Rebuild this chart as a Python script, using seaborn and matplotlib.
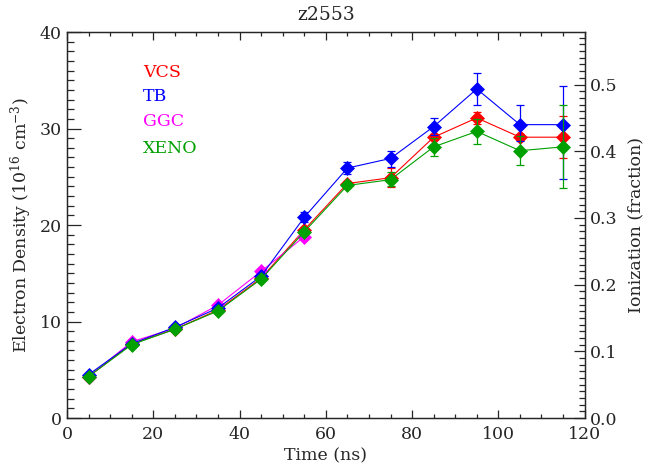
import matplotlib
matplotlib.use("Agg")
import matplotlib.pyplot as plt
import seaborn as sns
import numpy as np
import pandas as pd
from matplotlib.ticker import MultipleLocator, FormatStrFormatter

# ---- data ----
time_vcs = [5, 15, 25, 35, 45, 55, 65, 75, 85, 95, 105, 115]
vcs = [4.3, 7.7, 9.2, 11.2, 14.5, 19.5, 24.3, 24.9, 29.1, 31.1, 29.1, 29.1]
vcs_err_lo = [0, 0, 0, 0, 0, 0, 0.3, 1.0, 0.3, 0.6, 0.3, 2.2]
vcs_err_hi = [0, 0, 0, 0, 0, 0, 0.3, 1.0, 0.3, 0.6, 0.3, 2.2]

time_tb = [5, 15, 25, 35, 45, 55, 65, 75, 85, 95, 105, 115]
tb = [4.5, 7.7, 9.4, 11.4, 14.7, 20.8, 25.9, 26.9, 30.2, 34.1, 30.4, 30.4]
tb_err_lo = [0, 0, 0, 0, 0, 0.5, 0.6, 0.9, 0.9, 1.7, 1.7, 5.6]
tb_err_hi = [0, 0, 0, 0, 0, 0.5, 0.6, 0.8, 0.9, 1.7, 2.0, 4.0]

time_ggc = [5, 15, 25, 35, 45, 55]
ggc = [4.3, 7.9, 9.3, 11.7, 15.2, 18.8]

time_xeno = [5, 15, 25, 35, 45, 55, 65, 75, 85, 95, 105, 115]
xeno = [4.3, 7.6, 9.2, 11.1, 14.4, 19.3, 24.1, 24.7, 28.1, 29.7, 27.7, 28.1]
xeno_err_lo = [0, 0, 0, 0, 0, 0, 0.3, 0.7, 0.9, 1.3, 1.5, 4.3]
xeno_err_hi = [0, 0, 0, 0, 0, 0, 0.3, 0.8, 0.9, 1.3, 1.5, 4.3]

labels = ["VCS", "TB", "GGC", "XENO"]
colors = ["#ff0000", "#0000ff", "#ff00ff", "#00a000"]

title = "z2553"
xlabel = "Time (ns)"
ylabel = "Electron Density (10$^{16}$ cm$^{-3}$)"
ylabel2 = "Ionization (fraction)"
ion_max = 0.5787

# ---- style ----
sns.set_style("ticks")
plt.rcParams["font.family"] = ["DejaVu Serif"]
plt.rcParams["mathtext.fontset"] = "dejavuserif"

fig = plt.figure(figsize=(6.47, 4.68), dpi=100)
ax = fig.add_axes([0.1036, 0.1068, 0.8, 0.8248])

series = [
    ("VCS", time_vcs, vcs, vcs_err_lo, vcs_err_hi, colors[0]),
    ("GGC", time_ggc, ggc, None, None, colors[2]),
    ("TB", time_tb, tb, tb_err_lo, tb_err_hi, colors[1]),
    ("XENO", time_xeno, xeno, xeno_err_lo, xeno_err_hi, colors[3]),
]

for name, t, v, lo, hi, c in series:
    df = pd.DataFrame({"t": t, "v": v})
    sns.lineplot(data=df, x="t", y="v", ax=ax, color=c, lw=0.8,
                 marker="D", markersize=7, markeredgecolor=c,
                 markeredgewidth=0.5, legend=False)
    if lo is not None:
        ax.errorbar(t, v, yerr=[lo, hi], fmt="none", ecolor=c,
                    elinewidth=0.9, capsize=3, capthick=0.9)

fs = 12.5
ax.set_xlim(0, 120)
ax.set_ylim(0, 40)
ax.xaxis.set_major_locator(MultipleLocator(20))
ax.xaxis.set_minor_locator(MultipleLocator(5))
ax.yaxis.set_major_locator(MultipleLocator(10))
ax.yaxis.set_minor_locator(MultipleLocator(1))
ax.tick_params(axis="x", which="major", direction="in", length=6, width=0.9,
               top=True, labelsize=fs, pad=6)
ax.tick_params(axis="x", which="minor", direction="in", length=3, width=0.9, top=True)
ax.tick_params(axis="y", which="major", direction="in", length=10, width=0.9,
               right=False, labelsize=fs, pad=4)
ax.tick_params(axis="y", which="minor", direction="in", length=5, width=0.9, right=False)
for s in ax.spines.values():
    s.set_linewidth(0.9)
    s.set_visible(True)

ax.set_xlabel(xlabel, fontsize=fs, labelpad=3)
ax.set_ylabel(ylabel, fontsize=fs, labelpad=4)
ax.set_title(title, fontsize=13.5, pad=9)

ax2 = ax.twinx()
ax2.set_ylim(0, ion_max)
ax2.yaxis.set_major_locator(MultipleLocator(0.1))
ax2.yaxis.set_minor_locator(MultipleLocator(0.01))
ax2.yaxis.set_major_formatter(FormatStrFormatter("%.1f"))
ax2.tick_params(axis="y", which="major", direction="in", length=8, width=0.9,
                labelsize=fs, pad=4)
ax2.tick_params(axis="y", which="minor", direction="in", length=4, width=0.9)
ax2.set_ylabel(ylabel2, fontsize=fs, labelpad=7)
for s in ax2.spines.values():
    s.set_linewidth(0.9)

leg_y = [0.894, 0.832, 0.767, 0.699]
for lab, c, yy in zip(labels, colors, leg_y):
    ax.text(0.147, yy, lab, color=c, fontsize=fs, transform=ax.transAxes,
            va="center", ha="left")

fig.savefig("out.png", dpi=100)
